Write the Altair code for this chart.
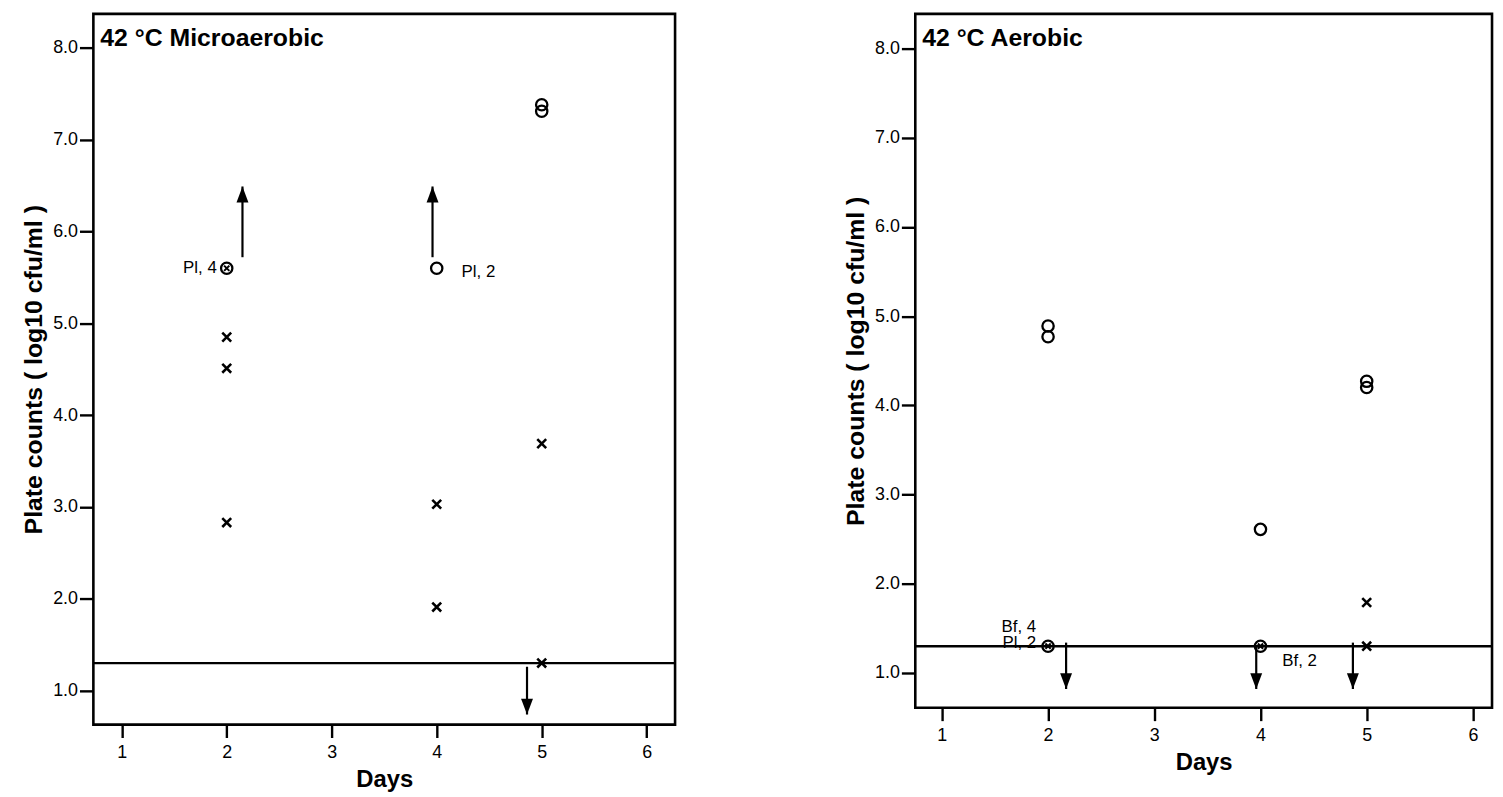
import altair as alt
import pandas as pd

FONT = "Liberation Sans"

# ---------------- Left panel: 42 °C Microaerobic ----------------
mic_cross_day = [2, 2, 2, 4, 4, 5, 5]
mic_cross_val = [4.85, 4.51, 2.83, 3.03, 1.91, 3.69, 1.30]
mic_circle_day = [2, 4, 5, 5]
mic_circle_val = [5.60, 5.60, 7.38, 7.31]
mic_inner_day = [2]
mic_inner_val = [5.60]
mic_up_day = [2.15, 3.96]
mic_up_from = [5.72, 5.72]
mic_up_to = [6.49, 6.49]
mic_down_day = [4.86]
mic_down_from = [1.26]
mic_down_to = [0.74]
mic_lab_left_day = [2]
mic_lab_left_val = [5.60]
mic_lab_left_text = ["Pl, 4"]
mic_lab_right_day = [4]
mic_lab_right_val = [5.60]
mic_lab_right_text = ["Pl, 2"]

# ---------------- Right panel: 42 °C Aerobic ----------------
aer_cross_day = [5, 5]
aer_cross_val = [1.79, 1.30]
aer_circle_day = [2, 2, 2, 4, 4, 5, 5]
aer_circle_val = [4.89, 4.77, 1.30, 2.61, 1.30, 4.27, 4.20]
aer_inner_day = [2, 4]
aer_inner_val = [1.30, 1.30]
aer_up_day = []
aer_up_from = []
aer_up_to = []
aer_down_day = [2.17, 3.96, 4.87]
aer_down_from = [1.34, 1.30, 1.34]
aer_down_to = [0.82, 0.82, 0.82]
aer_lab_left_day = [2, 2]
aer_lab_left_val = [1.51, 1.33]
aer_lab_left_text = ["Bf, 4", "Pl, 2"]
aer_lab_right_day = [4]
aer_lab_right_val = [1.13]
aer_lab_right_text = ["Bf, 2"]

detection_limit = [1.30]
y_ticks = [1, 2, 3, 4, 5, 6, 7, 8]
x_ticks = [1, 2, 3, 4, 5, 6]

X_PATH = "M-1,-1L1,1M-1,1L1,-1"
UP_HEAD = "M0,0L-0.75,2L0.75,2Z"
DOWN_HEAD = "M0,0L-0.75,-2L0.75,-2Z"


def panel(title, cross_d, cross_v, circ_d, circ_v, in_d, in_v,
          up_d, up_f, up_t, dn_d, dn_f, dn_t,
          ll_d, ll_v, ll_t, lr_d, lr_v, lr_t,
          xdom, ydom, width, height, ll_dx, ll_dy, lr_dx, lr_dy):
    xs = alt.Scale(domain=xdom, zero=False, nice=False)
    ys = alt.Scale(domain=ydom, zero=False, nice=False)
    xax = alt.Axis(title="Days", values=x_ticks, format="d")
    yax = alt.Axis(title="Plate counts ( log10 cfu/ml )", values=y_ticks, format=".1f")

    def xy(xf="d:Q", yf="v:Q"):
        return dict(x=alt.X(xf, scale=xs, axis=xax), y=alt.Y(yf, scale=ys, axis=yax))

    layers = []
    # detection limit line
    layers.append(
        alt.Chart(pd.DataFrame({"v": detection_limit}))
        .mark_rule(color="black", strokeWidth=2.4)
        .encode(y=alt.Y("v:Q", scale=ys, axis=yax))
    )
    # crosses
    layers.append(
        alt.Chart(pd.DataFrame({"d": cross_d, "v": cross_v}))
        .mark_point(shape=X_PATH, size=80, color="black", strokeWidth=2.6, filled=False, opacity=1)
        .encode(**xy())
    )
    # open circles
    layers.append(
        alt.Chart(pd.DataFrame({"d": circ_d, "v": circ_v}))
        .mark_point(shape="circle", size=130, color="black", strokeWidth=2.3, filled=False, opacity=1)
        .encode(**xy())
    )
    # small x inside circles
    layers.append(
        alt.Chart(pd.DataFrame({"d": in_d, "v": in_v}))
        .mark_point(shape=X_PATH, size=28, color="black", strokeWidth=2, filled=False, opacity=1)
        .encode(**xy())
    )
    # arrows
    for dd, ff, tt, head in ((up_d, up_f, up_t, UP_HEAD), (dn_d, dn_f, dn_t, DOWN_HEAD)):
        if not dd:
            continue
        adf = pd.DataFrame({"d": dd, "f": ff, "t": tt})
        layers.append(
            alt.Chart(adf).mark_rule(color="black", strokeWidth=2.2)
            .encode(**xy("d:Q", "f:Q"), y2="t:Q")
        )
        layers.append(
            alt.Chart(adf).mark_point(shape=head, size=256, color="black", filled=True, opacity=1)
            .encode(**xy("d:Q", "t:Q"))
        )
    # annotations
    layers.append(
        alt.Chart(pd.DataFrame({"d": ll_d, "v": ll_v, "t": ll_t}))
        .mark_text(align="right", baseline="middle", dx=ll_dx, dy=ll_dy, fontSize=17, font=FONT, color="black")
        .encode(**xy(), text="t:N")
    )
    layers.append(
        alt.Chart(pd.DataFrame({"d": lr_d, "v": lr_v, "t": lr_t}))
        .mark_text(align="left", baseline="middle", dx=lr_dx, dy=lr_dy, fontSize=17, font=FONT, color="black")
        .encode(**xy(), text="t:N")
    )
    # panel title inside plot
    layers.append(
        alt.Chart(pd.DataFrame({"t": [title]}))
        .mark_text(align="left", baseline="top", fontSize=25, fontWeight="bold", font=FONT, color="black")
        .encode(x=alt.value(7), y=alt.value(12), text="t:N")
    )
    return alt.layer(*layers).properties(width=width, height=height)


left = panel("42 °C Microaerobic",
             mic_cross_day, mic_cross_val, mic_circle_day, mic_circle_val, mic_inner_day, mic_inner_val,
             mic_up_day, mic_up_from, mic_up_to, mic_down_day, mic_down_from, mic_down_to,
             mic_lab_left_day, mic_lab_left_val, mic_lab_left_text,
             mic_lab_right_day, mic_lab_right_val, mic_lab_right_text,
             [0.73, 6.27], [0.63, 8.37], 586, 716, -10, 0, 25, 4)

right = panel("42 °C Aerobic",
              aer_cross_day, aer_cross_val, aer_circle_day, aer_circle_val, aer_inner_day, aer_inner_val,
              aer_up_day, aer_up_from, aer_up_to, aer_down_day, aer_down_from, aer_down_to,
              aer_lab_left_day, aer_lab_left_val, aer_lab_left_text,
              aer_lab_right_day, aer_lab_right_val, aer_lab_right_text,
              [0.75, 6.18], [0.61, 8.39], 581, 699, -12, 0, 22, 0)

chart = (
    alt.hconcat(left, right, spacing=165)
    .properties(padding={"left": 12, "top": 1, "right": 0, "bottom": 0}, background="white")
    .configure_view(stroke="black", strokeWidth=2.6)
    .configure_axis(
        domain=False, grid=False,
        tickColor="black", tickWidth=2.4,
        labelFont=FONT, labelFontSize=18, labelColor="black",
        titleFont=FONT, titleFontSize=24, titleFontWeight="bold", titleColor="black",
    )
    .configure_axisY(tickSize=14, labelPadding=2, titlePadding=6, titleFontSize=25)
    .configure_axisX(tickSize=13, labelPadding=6, titlePadding=6)
)

chart.save("out.html", embed_options={"renderer": "svg", "actions": False})
